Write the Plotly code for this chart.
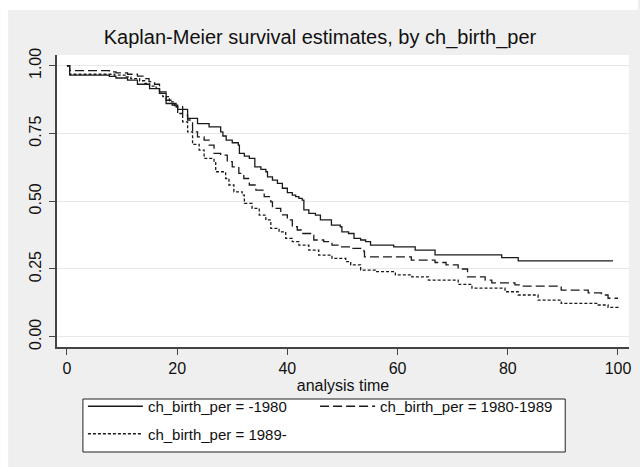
import plotly.graph_objects as go

# Kaplan-Meier step estimates by birth period of the child
t_pre1980 = [0, 0.5, 7.7, 8.9, 11.0, 12.8, 15.0, 16.8, 18.0, 19.1, 20.1, 21.9, 23.7, 25.8,
             27.9, 28.3, 28.9, 30.0, 31.1, 31.3, 32.2, 33.1, 34.1, 35.2, 36.1, 36.4, 37.3,
             38.2, 39.1, 40.0, 40.9, 41.5, 42.1, 42.7, 43.0, 43.9, 45.1, 46.0, 48.0, 49.6,
             49.9, 51.1, 52.1, 53.3, 54.2, 55.1, 59.3, 63.2, 66.8, 78.9, 81.9, 99.1]
s_pre1980 = [1.000, 0.966, 0.961, 0.955, 0.947, 0.932, 0.916, 0.898, 0.861, 0.855, 0.839, 0.806,
             0.787, 0.775, 0.756, 0.741, 0.726, 0.716, 0.707, 0.677, 0.667, 0.658, 0.627, 0.618,
             0.609, 0.590, 0.578, 0.566, 0.548, 0.532, 0.523, 0.517, 0.511, 0.504, 0.468, 0.455,
             0.449, 0.431, 0.412, 0.406, 0.387, 0.381, 0.363, 0.357, 0.351, 0.338, 0.332, 0.320,
             0.302, 0.292, 0.280, 0.280]

t_1980_89 = [0, 0.5, 7.7, 8.9, 11.0, 12.8, 14.1, 14.9, 15.9, 16.8, 18.0, 18.9, 19.8, 21.0,
             21.9, 22.8, 23.7, 24.9, 25.8, 26.7, 27.9, 29.1, 30.0, 31.2, 32.1, 33.1, 34.3,
             35.8, 37.0, 37.3, 38.8, 40.0, 40.9, 41.8, 42.7, 44.6, 44.8, 46.6, 48.1, 49.6,
             51.4, 53.9, 54.0, 62.5, 66.8, 68.8, 71.0, 72.7, 75.9, 77.1, 81.3, 82.5, 89.7,
             94.6, 97.0, 98.2, 100.0]
s_1980_89 = [1.000, 0.982, 0.978, 0.974, 0.969, 0.962, 0.953, 0.942, 0.932, 0.904, 0.873, 0.861,
             0.849, 0.818, 0.800, 0.756, 0.738, 0.726, 0.707, 0.677, 0.670, 0.646, 0.627, 0.603,
             0.584, 0.560, 0.541, 0.517, 0.498, 0.474, 0.450, 0.431, 0.406, 0.394, 0.381, 0.375,
             0.357, 0.351, 0.338, 0.332, 0.326, 0.314, 0.295, 0.283, 0.274, 0.265, 0.250, 0.221,
             0.209, 0.199, 0.191, 0.187, 0.172, 0.162, 0.154, 0.142, 0.142]

t_1989on = [0, 0.5, 8.6, 10.7, 11.6, 13.2, 14.1, 15.0, 16.2, 16.8, 17.4, 18.6, 19.5, 20.1,
            21.0, 21.9, 22.8, 24.0, 24.9, 26.7, 27.0, 28.8, 29.4, 30.3, 31.8, 32.2, 33.6,
            34.9, 36.1, 37.0, 38.5, 39.7, 40.9, 42.1, 43.9, 45.7, 48.1, 50.6, 51.5, 53.3,
            56.0, 59.6, 62.6, 65.6, 71.0, 73.5, 79.5, 81.9, 85.5, 89.7, 96.4, 98.2, 100.0]
s_1989on = [1.000, 0.969, 0.966, 0.959, 0.953, 0.945, 0.935, 0.925, 0.917, 0.898, 0.886, 0.867,
            0.849, 0.824, 0.793, 0.756, 0.710, 0.689, 0.658, 0.646, 0.609, 0.584, 0.560, 0.535,
            0.523, 0.492, 0.474, 0.449, 0.431, 0.400, 0.387, 0.363, 0.351, 0.338, 0.320, 0.301,
            0.289, 0.277, 0.265, 0.246, 0.240, 0.228, 0.221, 0.209, 0.193, 0.179, 0.166, 0.154,
            0.135, 0.123, 0.117, 0.108, 0.102]

group_names = ["ch_birth_per = -1980", "ch_birth_per = 1980-1989", "ch_birth_per = 1989-"]
x_ticks = [0, 20, 40, 60, 80, 100]
y_ticks = [0.0, 0.25, 0.5, 0.75, 1.0]
y_tick_text = ["0.00", "0.25", "0.50", "0.75", "1.00"]

FONT = "Liberation Sans, Arial, Helvetica, sans-serif"
W, H = 640, 467
ML, MR, MT, MB = 57, 9, 55, 120
PW, PH = W - ML - MR, H - MT - MB


def px_to_paper_x(px):
    return (px - ML) / PW


def px_to_paper_y(py):
    return (H - MB - py) / PH


fig = go.Figure()
series = [(t_pre1980, s_pre1980, "solid", "legend", "g1"),
          (t_1980_89, s_1980_89, "9px,4px", "legend2", "g2"),
          (t_1989on, s_1989on, "3px,2px", "legend", "g3")]
for (tt, ss, dash, leg, grp), name in zip(series, group_names):
    fig.add_trace(go.Scatter(
        x=tt, y=ss, mode="lines", name=name, legend=leg, legendgroup=grp,
        line=dict(shape="hv", color="#1a1a1a", width=1.3, dash=dash),
    ))

# white margin strips around the grey graph region
fig.add_shape(type="rect", xref="paper", yref="paper",
              x0=px_to_paper_x(0), x1=px_to_paper_x(W), y0=px_to_paper_y(10), y1=px_to_paper_y(0),
              fillcolor="white", line_width=0, layer="below")
fig.add_shape(type="rect", xref="paper", yref="paper",
              x0=px_to_paper_x(0), x1=px_to_paper_x(8), y0=px_to_paper_y(H), y1=px_to_paper_y(0),
              fillcolor="white", line_width=0, layer="below")
# legend frame
fig.add_shape(type="rect", xref="paper", yref="paper",
              x0=px_to_paper_x(83), x1=px_to_paper_x(567),
              y0=px_to_paper_y(452), y1=px_to_paper_y(399),
              fillcolor="white", line=dict(color="#222", width=1), layer="below")

legend_common = dict(orientation="v", xanchor="left", yanchor="top",
                     bgcolor="rgba(0,0,0,0)", borderwidth=0,
                     font=dict(size=15), itemwidth=55, tracegroupgap=5,
                     traceorder="grouped")

fig.update_layout(
    width=W, height=H,
    margin=dict(l=ML, r=MR, t=MT, b=MB),
    paper_bgcolor="#efefef",
    plot_bgcolor="white",
    font=dict(family=FONT, size=15, color="#111"),
    title=dict(text="Kaplan-Meier survival estimates, by ch_birth_per",
               x=0.5, xref="container", xanchor="center",
               y=1 - 37 / H, yref="container", yanchor="middle",
               font=dict(size=20, color="#111")),
    showlegend=True,
    legend=dict(x=px_to_paper_x(83), y=px_to_paper_y(390), **legend_common),
    legend2=dict(x=px_to_paper_x(316), y=px_to_paper_y(390), **legend_common),
    xaxis=dict(range=[-1.8, 102], tickvals=x_ticks, ticks="outside", ticklen=6,
               tickcolor="#444", showline=True, linecolor="#444", linewidth=1.5,
               showgrid=False, zeroline=False,
               title=dict(text="analysis time", font=dict(size=16), standoff=1),
               tickfont=dict(size=16)),
    yaxis=dict(range=[-0.038, 1.04], tickvals=y_ticks, ticktext=y_tick_text,
               ticks="outside", ticklen=6, tickcolor="#444", tickangle=-90,
               ticklabelstandoff=2,
               showline=True, linecolor="#444", linewidth=1.5,
               showgrid=True, gridcolor="#e8e8e8", gridwidth=1, zeroline=False,
               tickfont=dict(size=16)),
)

fig.write_html("out.html")
